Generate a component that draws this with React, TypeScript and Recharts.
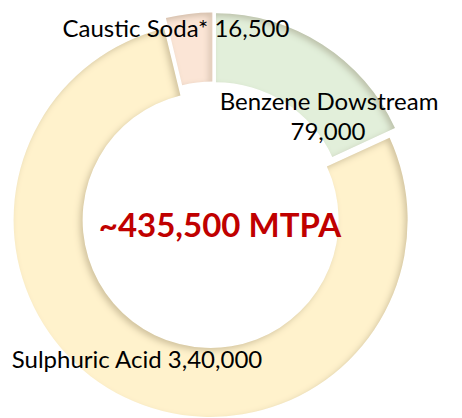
import React from 'react';
import { PieChart, Pie, Cell, Sector } from 'recharts';

// capacity split
const products = ['Benzene Dowstream', 'Sulphuric Acid', 'Caustic Soda*'];
const capacities = [79000, 340000, 16500];
const unit = 'MTPA';

const colors = ['#E2EFDA', '#FFF2CC', '#FBE5D6'];

// label anchors, relative to the pie centre (dx, dy of each text line)
const labelLayout = [
  [{ dx: 116, dy: -105 }, { dx: 115, dy: -75 }],
  [{ dx: -76, dy: 153 }],
  [{ dx: -37, dy: -178 }],
];

const EXPLODE = 5.5;
const RADIAN = Math.PI / 180;

const fmtIN = (v: number) => v.toLocaleString('en-IN');
const fmtUS = (v: number) => v.toLocaleString('en-US');

const data = products.map((name, i) => ({ name, value: capacities[i] }));
const total = capacities.reduce((a, b) => a + b, 0);

const ExplodedSector = (props: any) => {
  const { cx, cy, midAngle } = props;
  const dx = EXPLODE * Math.cos(-midAngle * RADIAN);
  const dy = EXPLODE * Math.sin(-midAngle * RADIAN);
  return <Sector {...props} cx={cx + dx} cy={cy + dy} filter="url(#innerShade)" />;
};

const renderLabel = (props: any) => {
  const { cx, cy, index, name, value } = props;
  const lines =
    index === 0 ? [name, fmtIN(value)] : [`${name} ${fmtIN(value)}`];
  return (
    <g>
      {lines.map((line, j) => (
        <text
          key={j}
          x={cx + labelLayout[index][j].dx}
          y={cy + labelLayout[index][j].dy}
          textAnchor="middle"
          fill="#000"
          fontSize={24}
          fontFamily="Lato, sans-serif"
        >
          {line}
        </text>
      ))}
      {index === 0 && (
        <text
          x={cx + 7}
          y={cy + 22}
          textAnchor="middle"
          fill="#C00000"
          fontSize={33}
          fontWeight="bold"
          fontFamily="Lato, sans-serif"
        >
          {`~${fmtUS(total)} ${unit}`}
        </text>
      )}
    </g>
  );
};

const App: React.FC = () => {
  return (
    <div style={{ position: 'absolute', left: 0, top: 0, width: 462, height: 418, background: '#fff' }}>
      <PieChart width={462} height={418} margin={{ top: 0, right: 0, bottom: 0, left: 0 }}>
        <defs>
          <filter id="innerShade" x="-10%" y="-10%" width="120%" height="120%">
            <feComponentTransfer in="SourceAlpha" result="inverse">
              <feFuncA type="table" tableValues="1 0" />
            </feComponentTransfer>
            <feGaussianBlur in="inverse" stdDeviation="3" result="blur" />
            <feOffset in="blur" dx="-3" dy="3" result="offsetBlur" />
            <feFlood floodColor="#7a6430" floodOpacity="0.45" result="color" />
            <feComposite in="color" in2="offsetBlur" operator="in" result="shadow" />
            <feComposite in="shadow" in2="SourceAlpha" operator="in" result="insetShadow" />
            <feMerge>
              <feMergeNode in="SourceGraphic" />
              <feMergeNode in="insetShadow" />
            </feMerge>
          </filter>
        </defs>
        <Pie
          data={data}
          dataKey="value"
          nameKey="name"
          cx={213}
          cy={215}
          innerRadius={128}
          outerRadius={197}
          startAngle={90}
          endAngle={-270}
          stroke="none"
          shape={ExplodedSector}
          activeShape={ExplodedSector}
          label={renderLabel}
          labelLine={false}
          isAnimationActive={false}
        >
          {data.map((d, i) => (
            <Cell key={d.name} fill={colors[i]} />
          ))}
        </Pie>
      </PieChart>
    </div>
  );
};

export default App;
